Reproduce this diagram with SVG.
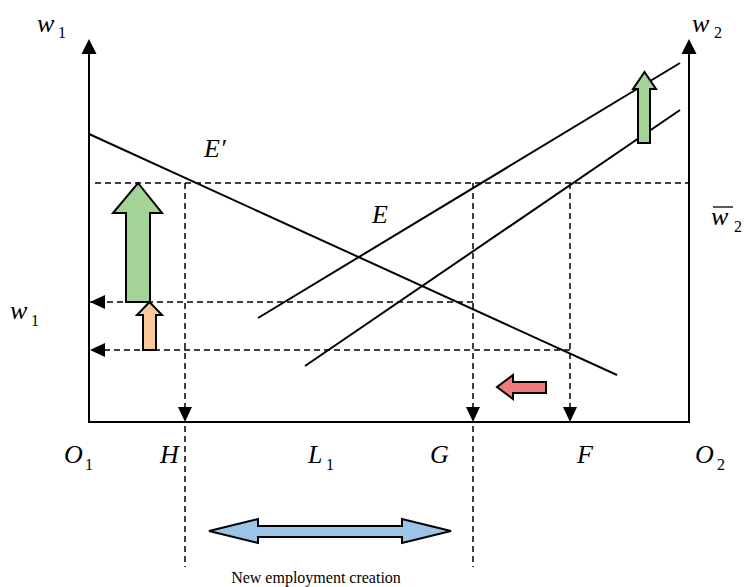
<svg xmlns="http://www.w3.org/2000/svg" width="744" height="587" viewBox="0 0 744 587">
<style>
.ax{stroke:#000;stroke-width:2;fill:none}
.ln{stroke:#000;stroke-width:2;fill:none}
.ds{stroke:#000;stroke-width:1.5;fill:none;stroke-dasharray:6,4}
.lb{font-family:"Liberation Serif","Times New Roman",serif;font-style:italic;font-size:26px;fill:#000}
.sb{font-family:"Liberation Serif","Times New Roman",serif;font-size:16px;fill:#000}
.cap{font-family:"Liberation Serif","Times New Roman",serif;font-size:16px;fill:#000}
.ar{stroke:#000;stroke-width:2;stroke-linejoin:miter}
</style>
<defs>
<marker id="ah" markerUnits="userSpaceOnUse" viewBox="0 0 15 14" refX="15" refY="7" markerWidth="15" markerHeight="14" orient="auto">
<path d="M0,0 L15,7 L0,14 z" fill="#000"/>
</marker>
</defs>
<g id="axes">
<line class="ax" x1="89" y1="52" x2="89" y2="422"/>
<line class="ax" x1="88" y1="422" x2="690" y2="422"/>
<line class="ax" x1="689" y1="52" x2="689" y2="422"/>
<polygon points="89,39 81.5,54 96.5,54" fill="#000"/>
<polygon points="689,39 681.5,54 696.5,54" fill="#000"/>
</g>
<g id="curves">
<line class="ln" x1="89" y1="134" x2="617" y2="375"/>
<line class="ln" x1="258" y1="318" x2="680" y2="63"/>
<line class="ln" x1="305" y1="366" x2="680" y2="110"/>
</g>
<g id="connectors">
<line class="ds" x1="95" y1="183" x2="689" y2="183"/>
<line class="ds" x1="185" y1="183" x2="185" y2="422" marker-end="url(#ah)"/>
<line class="ds" x1="185" y1="426" x2="185" y2="567"/>
<line class="ds" x1="473" y1="183" x2="473" y2="422" marker-end="url(#ah)"/>
<line class="ds" x1="473" y1="426" x2="473" y2="567"/>
<line class="ds" x1="570" y1="183" x2="570" y2="422" marker-end="url(#ah)"/>
<line class="ds" x1="473" y1="302" x2="90" y2="302" marker-end="url(#ah)"/>
<line class="ds" x1="570" y1="350" x2="90" y2="350" marker-end="url(#ah)"/>
</g>
<g id="green-arrow-left">
<polygon class="ar" fill="#a3d397" points="126,302 126,213 113,213 138,183 162,213 150,213 150,302"/>
</g>
<g id="orange-arrow">
<polygon class="ar" fill="#f9c89b" points="143,350 143,315 137,315 149.5,302 162,315 156,315 156,350"/>
</g>
<g id="green-arrow-right">
<polygon class="ar" fill="#a3d397" points="638,143 638,89 633,89 644.5,72 656,89 650,89 650,143"/>
</g>
<g id="red-arrow">
<polygon class="ar" fill="#ef7b7b" points="546,382 513,382 513,375 497,387 513,399 513,393 546,393"/>
</g>
<g id="blue-arrow">
<polygon class="ar" fill="#9dc3e6" points="209,531 258,519 258,526 402,526 402,519 451,531 402,543 402,537 258,537 258,543"/>
</g>
<g id="labels">
<text class="lb" x="37" y="32">w</text><text class="sb" x="58" y="38">1</text>
<text class="lb" x="692" y="32">w</text><text class="sb" x="714" y="38">2</text>
<text class="lb" x="711" y="225">w</text><text class="sb" x="734" y="232">2</text>
<line x1="713" y1="207" x2="733" y2="207" stroke="#000" stroke-width="1.3"/>
<text class="lb" x="10" y="319">w</text><text class="sb" x="31" y="326">1</text>
<text class="lb" x="204" y="157">E′</text>
<text class="lb" x="372" y="223">E</text>
<text class="lb" x="64" y="463">O</text><text class="sb" x="85" y="470">1</text>
<text class="lb" x="160" y="463">H</text>
<text class="lb" x="308" y="463">L</text><text class="sb" x="326" y="470">1</text>
<text class="lb" x="430" y="463">G</text>
<text class="lb" x="577" y="463">F</text>
<text class="lb" x="695" y="463">O</text><text class="sb" x="717" y="470">2</text>
<text class="cap" x="316" y="583" text-anchor="middle">New employment creation</text>
</g>
</svg>
